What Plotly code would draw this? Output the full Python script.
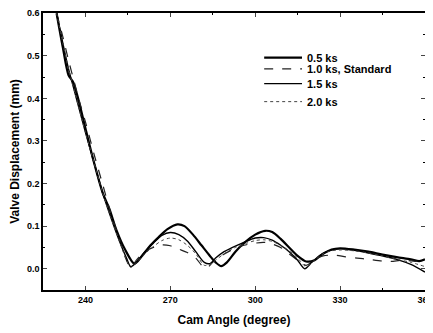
import plotly.graph_objects as go

x_05 = [229.8, 232, 234, 235.5, 237, 240, 243, 246, 248.5, 251, 254, 257.3, 260, 263, 266, 269, 272.5, 275, 278, 281, 284, 286, 288, 290, 293, 296, 300, 303.5, 306, 309, 312, 315, 318, 321, 324, 327, 330, 335, 340, 345, 350, 355, 358, 360]
y_05 = [0.6, 0.52, 0.455, 0.44, 0.41, 0.33, 0.25, 0.18, 0.14, 0.09, 0.045, 0.012, 0.03, 0.055, 0.075, 0.093, 0.104, 0.1, 0.08, 0.055, 0.03, 0.015, 0.006, 0.015, 0.04, 0.06, 0.08, 0.089, 0.086, 0.07, 0.05, 0.03, 0.017, 0.02, 0.035, 0.045, 0.048, 0.045, 0.04, 0.033, 0.027, 0.022, 0.018, 0.022]

x_10 = [229.8, 232, 234, 236, 238, 240, 243, 246, 249, 252, 254.5, 256, 258, 261, 264, 267, 270, 273, 276, 279, 281.5, 283, 285, 288, 292, 296, 300, 303, 306, 309, 312, 315, 318, 321, 324, 328, 332, 336, 340, 345, 348, 352, 356, 360]
y_10 = [0.6, 0.545, 0.49, 0.44, 0.39, 0.345, 0.27, 0.2, 0.13, 0.07, 0.02, 0.003, 0.02, 0.04, 0.05, 0.056, 0.054, 0.046, 0.038, 0.025, 0.005, 0.002, 0.015, 0.03, 0.045, 0.055, 0.06, 0.062, 0.058, 0.05, 0.035, 0.02, 0.008, 0.022, 0.03, 0.032, 0.028, 0.025, 0.022, 0.018, 0.017, 0.02, 0.018, 0.015]

x_15 = [229.8, 232, 234, 236, 238, 240, 243, 246, 249, 252, 254.5, 256, 258, 261, 264, 267, 270, 273, 276, 279, 282, 284, 286, 289, 292, 296, 300, 303, 306, 309, 312, 315, 317.5, 320, 323, 326, 330, 335, 340, 345, 350, 355, 360]
y_15 = [0.6, 0.53, 0.47, 0.42, 0.37, 0.32, 0.25, 0.18, 0.12, 0.065, 0.025, 0.005, 0.015, 0.04, 0.06, 0.078, 0.085, 0.08, 0.065, 0.04, 0.015, 0.012, 0.025, 0.04, 0.05, 0.062, 0.072, 0.073, 0.067, 0.055, 0.04, 0.02, 0.0, 0.015, 0.032, 0.042, 0.047, 0.043, 0.037, 0.03, 0.022, 0.01, -0.008]

x_20 = [229.8, 232, 234, 236, 238, 240, 243, 246, 249, 252, 254.5, 256, 258, 261, 264, 267, 270, 273, 276, 279, 282, 284, 286, 289, 293, 297, 300, 303, 306, 309, 312, 315, 318, 321, 324, 327, 330, 335, 340, 345, 350, 355, 360]
y_20 = [0.6, 0.53, 0.47, 0.42, 0.37, 0.32, 0.25, 0.18, 0.12, 0.065, 0.02, 0.003, 0.015, 0.035, 0.052, 0.066, 0.072, 0.068, 0.055, 0.035, 0.008, 0.01, 0.02, 0.035, 0.05, 0.06, 0.066, 0.068, 0.064, 0.055, 0.042, 0.025, 0.005, 0.02, 0.035, 0.042, 0.044, 0.042, 0.037, 0.03, 0.022, 0.015, 0.005]

names = ["0.5 ks", "1.0 ks, Standard", "1.5 ks", "2.0 ks"]
x_ticks = [240, 270, 300, 330, 360]
y_ticks = [0.0, 0.1, 0.2, 0.3, 0.4, 0.5, 0.6]

styles = [
    dict(color="black", width=2.2, dash="solid"),
    dict(color="#222", width=1.2, dash="dash"),
    dict(color="black", width=1.4, dash="solid"),
    dict(color="#444", width=1.0, dash="dot"),
]
series = [(x_05, y_05), (x_10, y_10), (x_15, y_15), (x_20, y_20)]

fig = go.Figure()
for (xs, ys), nm, ln in zip(series, names, styles):
    fig.add_trace(go.Scatter(x=xs, y=ys, name=nm, mode="lines", showlegend=False,
                             line=dict(shape="spline", smoothing=0.8, **ln)))

FAM = "Liberation Sans, Arial, sans-serif"
font = dict(family=FAM, color="black")

# compact legend (plotly's native legend rows are too tall for this chart)
leg_rows = [0.839, 0.798, 0.745, 0.680]
for nm, ln, yy in zip(names, styles, leg_rows):
    fig.add_shape(type="line", xref="paper", yref="paper", x0=0.579, x1=0.678, y0=yy, y1=yy,
                  line=ln)
    fig.add_annotation(xref="paper", yref="paper", x=0.686, y=yy, text=nm, showarrow=False,
                       xanchor="left", yanchor="middle",
                       font=dict(family=FAM, size=11, color="black", weight="bold"))

# the page body has an 8px default margin, so margins are offset accordingly
fig.update_layout(
    width=433, height=333,
    margin=dict(l=35, r=16, t=5, b=51),
    paper_bgcolor="white", plot_bgcolor="white",
    font=font,
    showlegend=False,
    xaxis=dict(range=[225, 360.01], tickvals=x_ticks, ticks="inside", ticklen=4, automargin=False,
               showline=True, linecolor="black", linewidth=1.5, mirror="ticks",
               showgrid=False, zeroline=False, ticklabeloverflow="allow",
               tickfont=dict(size=9, family=FAM, color="black", weight="bold"),
               minor=dict(dtick=15, tick0=225, ticks="inside", ticklen=2, tickcolor="black"),
               title=dict(text="Cam Angle (degree)", font=dict(size=12, family=FAM, color="black", weight="bold"), standoff=12)),
    yaxis=dict(range=[-0.05, 0.6005], tickvals=y_ticks, tickformat=".1f", ticks="inside", ticklen=4, automargin=False,
               showline=True, linecolor="black", linewidth=1.5, mirror="ticks",
               showgrid=False, zeroline=False, ticklabeloverflow="allow",
               tickfont=dict(size=9, family=FAM, color="black", weight="bold"),
               minor=dict(dtick=0.05, tick0=0, ticks="inside", ticklen=2, tickcolor="black"),
               title=dict(text="Valve Displacement (mm)", font=dict(size=12, family=FAM, color="black", weight="bold"), standoff=6)),
)

fig.write_html("out.html")
